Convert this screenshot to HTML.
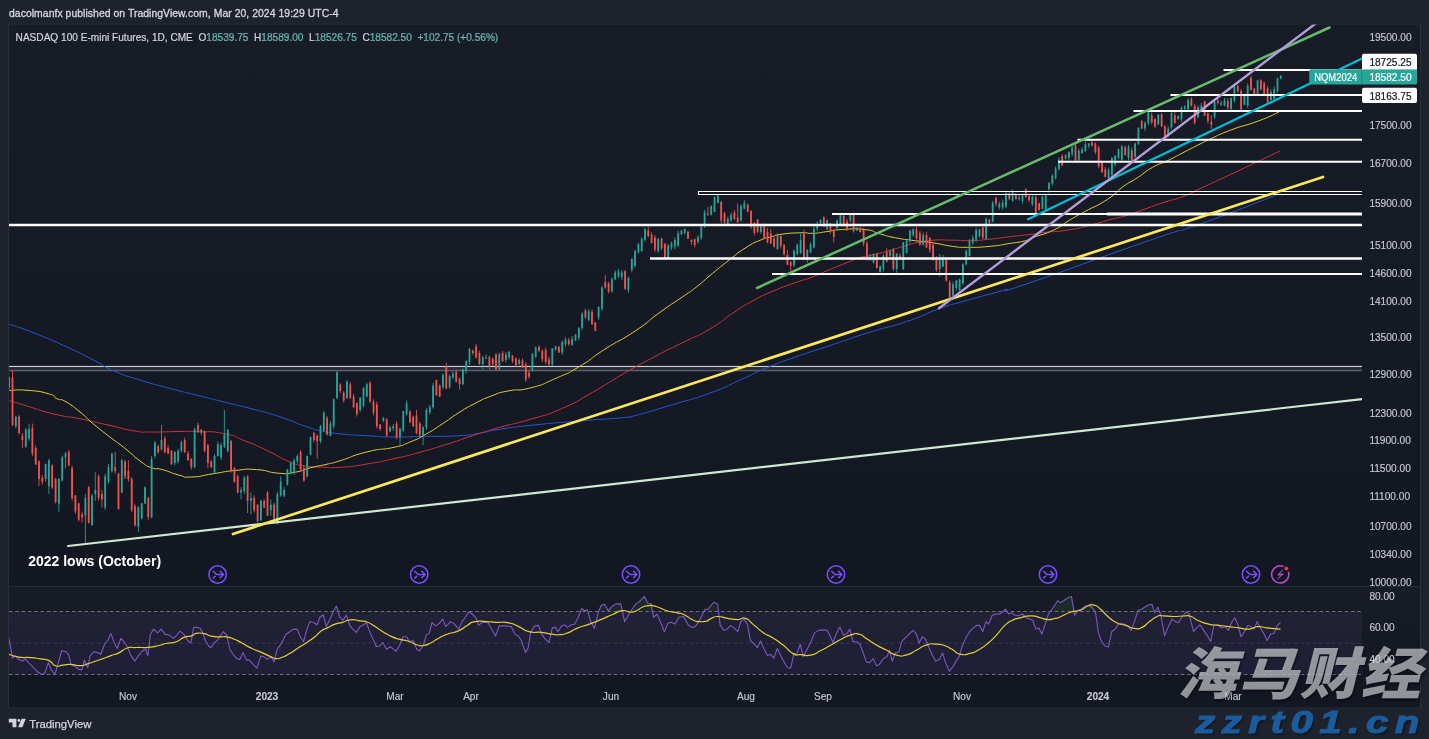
<!DOCTYPE html>
<html><head><meta charset="utf-8"><title>NASDAQ 100 E-mini Futures</title>
<style>
html,body{margin:0;padding:0;background:#1e222d;}
body{width:1429px;height:739px;position:relative;overflow:hidden;font-family:"Liberation Sans",Arial,sans-serif;}
.wm1{position:absolute;left:1173px;top:630px;width:260px;height:80px;white-space:nowrap;font-family:"Noto Sans CJK SC","WenQuanYi Zen Hei",sans-serif;font-weight:900;font-size:56px;line-height:80px;color:rgba(236,236,240,0.6);transform-origin:0 100%;transform:skewX(-14deg) scaleX(1.073);text-shadow:1.5px 1.5px 2px rgba(0,0,0,0.4);letter-spacing:1px;}
.wm2{position:absolute;left:1194.7px;top:702.5px;transform-origin:0 50%;transform:scaleX(1.3);white-space:nowrap;font-family:"Liberation Sans",Arial,sans-serif;font-weight:bold;font-style:italic;font-size:31px;line-height:40px;color:#1b5c9c;-webkit-text-stroke:1px #1b5c9c;letter-spacing:5px;text-shadow:1.5px 1.5px 1px rgba(0,0,0,0.35);}
</style></head><body>
<svg width="1429" height="739" viewBox="0 0 1429 739" style="position:absolute;left:0;top:0;will-change:transform">
<defs>
<clipPath id="cm"><rect x="9" y="24.5" width="1353" height="562.0"/></clipPath>
<clipPath id="cr"><rect x="9" y="586.5" width="1353" height="122.0"/></clipPath>
<linearGradient id="bgm" x1="0" y1="0" x2="0" y2="1"><stop offset="0" stop-color="#181c27"/><stop offset="1" stop-color="#131722"/></linearGradient>
<linearGradient id="bgr" x1="0" y1="0" x2="0" y2="1"><stop offset="0" stop-color="#181c27"/><stop offset="1" stop-color="#131722"/></linearGradient>
</defs>
<rect x="8" y="23.5" width="1413" height="685.0" fill="#131722"/>
<rect x="8" y="586.5" width="1413" height="88.5" fill="url(#bgr)"/>
<rect x="8" y="23.5" width="1413" height="563.0" fill="url(#bgm)"/>
<rect x="8.5" y="24.0" width="1412" height="684.0" fill="none" stroke="#2a2e39" stroke-width="1"/>
<line x1="8" x2="1421" y1="586.5" y2="586.5" stroke="#262a36" stroke-width="1"/>
<g clip-path="url(#cm)">
<rect x="0" y="365.9" width="1362" height="1.35" fill="#cdced2"/>
<rect x="0" y="367.25" width="1362" height="2.5" fill="#272b36"/>
<rect x="0" y="369.75" width="1362" height="1.55" fill="#595e69"/>
<path d="M9 324C18 327.3 16.7 326.1 36 333.8C55.3 341.5 47.8 338.3 66.9 347C86 355.7 77.8 352.1 93.4 360C109 367.9 97.9 364 113.7 370.8C129.5 377.6 122 374.4 140.8 380.3C159.6 386.2 151.3 383.4 170 388.4C188.7 393.4 179 390.7 197 395.2C215 399.7 206 397.5 224 402C242 406.5 232.9 403.9 251 408.7C269.1 413.5 260.2 410.4 278.3 416.3C296.4 422.2 291 421.4 305.4 426.3C319.8 431.2 310.1 428.5 321.6 431C333.1 433.5 324.9 432.2 340 433.8C355.1 435.4 349 434.6 367 435.7C385 436.8 376 436.7 394 437C412 437.3 399.3 436.9 421 436.5C442.7 436.1 439.1 436.9 459 435.7C478.9 434.5 467.1 435.1 480.8 433C494.5 430.9 481.3 432.1 500 429.3C518.7 426.5 510.3 427.5 537 424.7C563.7 421.9 551.3 423.4 580 421C608.7 418.6 604.7 419.4 623.2 417.6C641.7 415.8 619.1 419.8 635.5 415.5C651.9 411.2 647.8 412.1 672.4 404.7C697 397.3 686.8 401.5 709.4 393.3C732 385.1 721.7 388.2 740.2 380C758.7 371.8 746.3 376.4 764.8 368.7C783.3 361 773 365 795.6 357C818.2 349 807.9 352.9 832.5 344.7C857.1 336.5 844.9 340 869.5 332.3C894.1 324.6 883.2 329.4 906.4 321.6C929.6 313.8 919.9 315.6 939 308.8C958.1 302 942.8 307.3 963.7 301.3C984.6 295.3 979.5 297 1001.6 290.8C1023.7 284.6 980.3 299.6 1030 282.7C1079.7 265.8 1094 259.5 1150.7 240C1207.4 220.5 1157.2 239.4 1200 224.1C1242.8 208.8 1252.7 204 1279 194" fill="none" stroke="#2457d6" stroke-width="1" stroke-linejoin="round"/>
<path d="M9.5 400.6C15.3 402.4 12.2 401.5 27 406C41.8 410.5 36 409.7 54 414C72 418.3 63 415.3 81 419C99 422.7 90 421 108 425C126 429 120.5 428.7 135 431C149.5 433.3 136.6 431.8 151.6 432C166.6 432.2 164.9 431.6 180 431.5C195.1 431.4 182.3 431 197 431.7C211.7 432.4 207.7 430.4 224 433.6C240.3 436.8 231.3 435.5 245.8 441.2C260.3 446.9 253.1 443.9 267.5 450.7C281.9 457.5 276.4 456.4 289 461.5C301.6 466.6 294.5 464.2 305.4 466C316.3 467.8 310.1 466.6 321.6 467C333.1 467.4 324.9 468.3 340 467.3C355.1 466.3 349 466.9 367 464C385 461.1 376 462.7 394 458.7C412 454.7 402.9 457 421 452C439.1 447 430.2 449.5 448.3 443.8C466.4 438.1 458.2 440.3 475.4 434.8C492.6 429.3 481.5 432.4 500 427.2C518.5 422 510.3 425.4 530.8 419.2C551.3 413 541.1 417.6 561.6 408.7C582.1 399.8 571.9 404 592.4 392.4C612.9 380.8 602.7 385.7 623.2 373.9C643.7 362.1 633.5 367.8 654 357C674.5 346.2 666.2 350.8 684.7 341.6C703.2 332.4 693 339.1 709.4 329.3C725.8 319.5 719.6 321.7 734 312.3C748.4 302.9 740.2 307.8 752.5 301C764.8 294.2 757.3 297.9 771 292C784.7 286.1 779.6 288.3 793.7 283.2C807.8 278.1 802.4 280.8 813.2 276.7C824 272.6 816.5 275.1 826.2 271C835.9 266.9 831.1 269 842.4 264.5C853.7 260 851.1 260.5 860 257.6C868.9 254.7 859.7 258 869 255.8C878.3 253.6 875.3 254.5 887.9 251C900.5 247.5 896.7 248.2 906.8 245.4C916.9 242.6 909.3 244.2 918.2 242.5C927.1 240.8 922 241 933.4 240.2C944.8 239.4 939.7 240.1 952.3 240.2C964.9 240.3 958.7 241 971.3 240.6C983.9 240.2 977.6 240.4 990.2 239.1C1002.8 237.8 995.9 238.4 1009.2 236.8C1022.5 235.2 1018.8 235.8 1030 234.4C1041.2 233 1029.6 234.1 1042.7 232.6C1055.8 231.1 1052.9 232.4 1069.3 229.8C1085.7 227.2 1078.1 228.2 1092 224.7C1105.9 221.2 1099.7 222.4 1111 219.4C1122.3 216.4 1114.7 219.1 1126 215.6C1137.3 212.1 1132.3 213.4 1145 209C1157.7 204.6 1151.3 206.4 1164 202.3C1176.7 198.2 1171 201.1 1183 196.6C1195 192.1 1181 197.6 1200 188.7C1219 179.8 1213.3 182.6 1240 170C1266.7 157.4 1266.7 157.3 1280 151" fill="none" stroke="#d1313a" stroke-width="1" stroke-linejoin="round"/>
<path d="M9.5 390.6C15.3 390.5 13.9 389.2 27 390.3C40.1 391.4 38.8 391 48.7 393.8C58.6 396.6 50.9 396 56.8 398.7C62.7 401.4 58.2 397.3 66.3 402C74.4 406.7 72.4 405.9 81 412.8C89.6 419.7 82.9 415.1 92 422.8C101.1 430.5 97.5 427.4 108.3 435.8C119.1 444.2 113.7 439.4 124.5 448C135.3 456.6 131.8 454.9 140.8 461.5C149.8 468.1 144.4 465 151.6 467.7C158.8 470.4 153.4 467.2 162.4 469.6C171.4 472 168.9 472.5 178.7 475C188.5 477.5 180.2 477.4 191.7 477C203.2 476.6 198.9 475.9 213.3 473.7C227.7 471.5 220.6 471.9 235 470.5C249.4 469.1 242.2 468.7 256.6 469.6C271 470.5 265.7 472.3 278.3 473.2C290.9 474.1 283.7 474.1 294.5 472.3C305.3 470.5 300 470.4 310.8 467.7C321.6 465 317.3 466.5 327 464.2C336.7 461.9 326.7 464.9 340 460.8C353.3 456.7 349 456.4 367 451.9C385 447.4 379.5 450.6 394 447.3C408.5 444 399.5 446.4 410.4 441.9C421.3 437.4 415.8 439.9 426.6 433.8C437.4 427.7 432.1 430.6 442.9 423.5C453.7 416.4 448.2 419.4 459 412.6C469.8 405.8 464.5 408.8 475.4 403.2C486.3 397.6 480.8 400 491.6 395.9C502.4 391.8 494.7 393.7 507.8 391C520.9 388.3 514.9 392 530.8 387.8C546.7 383.6 539 385.7 555.4 378.5C571.8 371.3 563.6 375.9 580 366.2C596.4 356.5 586.2 361.1 604.7 349.3C623.2 337.5 617.1 343.1 635.5 330.8C653.9 318.5 643.6 324.1 660 312.3C676.4 300.5 672.6 303.8 684.7 295.4C696.8 287 686.9 294.5 696.2 287.2C705.5 279.9 701.7 282.3 712.5 273.4C723.3 264.5 717.9 268.8 728.7 260.4C739.5 252 734.2 255.1 745 248.2C755.8 241.3 752.5 243.6 761.2 239.8C769.9 236 764.5 238.7 771 236.9C777.5 235.1 771 235.8 780.7 234.4C790.4 233 789.4 233.2 800.2 232.8C811 232.4 804.5 233.7 813.2 233.3C821.9 232.9 816.5 233 826.2 231.7C835.9 230.4 829.4 230.2 842.4 229.5C855.4 228.8 852.6 228.1 865.2 229.6C877.8 231.1 870.2 231.3 880.3 234C890.4 236.7 884.1 235.6 895.5 237.8C906.9 240 901.8 238.9 914.4 240.6C927 242.3 920.8 241 933.4 242.9C946 244.8 940.9 244.8 952.3 246.3C963.7 247.8 954.9 247.3 967.5 247.3C980.1 247.3 976.3 247.6 990.2 246.3C1004.1 245 997.8 245.3 1009.2 243.5C1020.6 241.7 1016.3 243 1024.3 241C1032.3 239 1023.4 241.1 1033.3 237.4C1043.2 233.7 1042.1 235.5 1054.1 229.8C1066.1 224.1 1059.2 226.3 1069.3 220.3C1079.4 214.3 1071.8 218.7 1084.4 211.8C1097 204.9 1094.6 207.7 1107.2 199.5C1119.8 191.3 1112.2 194.5 1122.3 187.2C1132.4 179.9 1127.4 184.3 1137.5 177.7C1147.6 171.1 1142.5 173 1152.6 167.3C1162.7 161.6 1157.7 165.5 1167.8 160.6C1177.9 155.7 1172.3 158.2 1183 152.7C1193.7 147.2 1191.1 148.5 1200 144C1208.9 139.5 1199.2 144 1209.6 139.3C1220 134.6 1215 136 1231.2 129.9C1247.4 123.8 1242.4 127 1258.3 121C1274.2 115 1272.1 115 1279 112" fill="none" stroke="#e3cf30" stroke-width="1" stroke-linejoin="round"/>
<path d="M9.2 376.7V389.6M15.8 415.6V428.4M25.8 427.8V447.8M29.1 423.6V441.2M45.6 463.5V481.4M48.9 458.8V494M58.9 477.8V511.6M62.2 455.6V481.4M65.5 452V468.3M85.4 494V544.1M92 493.7V525.9M95.3 472.3V500.8M105.2 474V509.9M108.5 464.1V483.7M111.9 452.7V472.4M121.8 458.7V493.1M138.3 506.2V531.9M141.7 503V519.5M145 486.3V504.2M151.6 456.1V518.4M154.9 440.9V458.4M161.5 425V450.7M174.8 451V465.4M178.1 449.2V463.6M181.4 440.7V452.3M194.6 427.7V468.3M201.3 429V434.9M214.5 454.1V473.3M217.8 441.5V456.6M221.1 442.5V460M224.4 410.1V448M227.8 429.2V452.8M241 487.2V499.4M244.3 475.5V494.1M250.9 492.6V514.3M260.9 499.9V521.1M270.8 499.4V515.7M277.4 491.6V524.5M280.7 476.4V496.7M284.1 487.1V497M287.4 468.9V485.7M290.7 461.8V474.4M294 458.7V475.1M297.3 454.3V463.8M307.2 455.6V477.4M310.5 436.3V455.2M320.5 424.7V443.3M323.8 410.7V432M330.4 420.8V436.5M333.7 398.6V429.1M337 370.8V399.3M347 379.8V399.3M360.2 396.9V412M363.5 387V407.5M366.8 382.6V397.6M383.4 417V422.2M390 425.7V432.1M393.3 424V430.9M400 427.5V445.1M403.3 410.8V431.9M406.6 400.5V415.4M423.1 426.2V445.1M426.4 407.9V429.9M429.8 404.8V414.5M433.1 382.8V408.6M443 373.3V389.5M449.6 374.3V389M452.9 371.2V379.1M462.9 368.8V385M466.2 360.3V373.5M469.5 347.8V364.9M482.7 355.8V369.3M486 354.3V359M499.3 352.6V370.5M505.9 351.8V362.6M509.2 351.2V359.5M519.2 358.2V364.9M532.4 353.1V371.7M535.7 346.5V357.7M552.3 347.9V366M555.6 345.6V350.7M562.2 340.5V355M565.5 337.4V346.4M572.1 336.1V346M575.5 334.1V341M578.8 327V340.3M582.1 312.3V330.4M588.7 309V321.3M598.6 306.1V319.8M602 286.2V311.2M611.9 277.3V292.7M615.2 270.1V280.1M618.5 268.5V278M621.8 269.8V279.9M628.4 276.6V292.9M631.8 258.3V272.2M635.1 249.8V267.7M638.4 242.7V253.7M641.7 236.9V251.9M645 227.9V241.4M658.2 238.2V253M668.2 243.8V258.4M671.5 241.6V250.2M674.8 237.7V249.2M678.1 230.5V247.4M681.4 229.9V235.3M684.7 228.2V234.3M698 235V243.9M701.3 224.9V239.8M704.6 209.9V227.9M711.2 205.5V215.6M714.5 196.2V212.4M717.9 194.9V203.6M727.8 216.6V225.7M731.1 212.5V221.4M741 204.4V221.4M744.3 200.4V209.4M760.9 223.7V234.1M777.5 233.4V249.8M794 249.4V267.1M797.3 243.3V255.3M800.6 232.8V253.9M807.3 249V262.8M810.6 242.1V253.2M813.9 226.3V247.9M817.2 221.1V231.3M820.5 219.1V225.1M827.1 219.5V230.4M837.1 219.1V229.1M840.4 213.1V225.4M850.3 213.6V222.5M856.9 226.7V231.3M870.2 253.9V260.8M873.5 253.2V263.6M880.1 265.3V272.8M883.4 254.3V271.8M890 249.8V258.1M896.7 252.9V272.8M903.3 242V270M906.6 239.7V253.4M909.9 229.5V243.2M913.2 228V237M923.2 232.5V245.6M939.7 253.9V276.6M943 254.8V267.2M953 281.6V296.1M956.3 279.9V290.5M959.6 278.6V292M962.9 263V284.9M966.2 249.4V265.5M969.5 239V256.5M972.8 235.4V245.3M976.1 227.4V242M979.5 228.6V237.8M986.1 217.4V239.7M992.7 200.9V222.2M999.3 201.5V210M1002.6 199.7V209.6M1005.9 192.4V208.2M1012.6 189.5V201.8M1019.2 195.2V200.5M1022.5 193.5V203.6M1032.4 194.2V206.1M1042.4 195.6V209.4M1045.7 193.3V211.5M1049 182.4V192.8M1052.3 173.9V185.5M1055.6 166.4V179.3M1058.9 157.1V170.3M1065.6 154.4V159.5M1068.9 151.2V160.6M1072.2 146.1V156.3M1078.8 148.7V161.1M1082.1 147.2V154M1085.4 141.7V151.7M1088.7 142.9V148M1108.6 167.5V180.5M1111.9 157.3V177.2M1115.2 155V166.3M1118.5 148.4V159.2M1121.8 144.8V160.6M1128.5 144.9V160.3M1135.1 142.9V158.5M1138.4 127V145.1M1145 121.3V131.2M1148.3 110.1V125.4M1158.3 113.9V125.2M1168.2 126.4V137.1M1171.5 110.5V129.1M1178.1 115.4V119.7M1181.5 106.5V121.7M1184.8 105.2V110.8M1188.1 98.1V110.4M1198 105.3V118.5M1201.3 102.9V109.2M1214.6 100.8V119.1M1221.2 101V106M1224.5 97.9V106.2M1231.1 97.4V111.2M1234.4 85.7V102.6M1244.4 93.8V105.3M1247.7 83.3V108M1257.6 79.6V95.6M1270.9 89.5V102.4M1274.2 86.4V100.6M1277.5 77.5V92.7M1280.8 74.9V79.4" stroke="#26a69a" stroke-width="0.85" fill="none"/>
<path d="M12.5 370.3V426.3M19.1 415.2V434.7M22.4 433.1V448M32.4 423.6V456.1M35.7 445.6V465M39 460.2V485.9M42.3 475V484.6M52.2 464.5V489.1M55.6 477.7V503.5M68.8 449.8V466.1M72.1 465.7V500.6M75.4 494.9V513.7M78.7 502.6V521.4M82.1 511.6V522.4M88.7 486V523.6M98.6 474.4V500.8M101.9 489.9V507.5M115.2 452V473.7M118.5 472.6V509.8M125.1 459.7V479M128.4 460.2V481.8M131.7 476.9V512.3M135 503.6V526.8M148.3 496.8V519.8M158.2 444.6V453.9M164.8 436.1V453.5M168.1 445.2V454.3M171.5 450V464.7M184.7 437.6V453.2M188 450.8V460.9M191.3 458.3V469.7M198 422.8V433.1M204.6 430.5V452.6M207.9 443.9V468.3M211.2 459.9V468.3M231.1 440.1V472.6M234.4 466.8V483M237.7 474.6V493.4M247.6 475.1V513M254.2 495.4V512.6M257.6 504.3V522.9M264.2 499.5V508.5M267.5 491V516.2M274.1 502.8V520.9M300.6 449.8V471.5M303.9 465.7V481.9M313.9 431.8V442.4M317.2 434.4V458.8M327.1 415.8V435.6M340.3 383.3V393.4M343.7 391V402.5M350.3 382.1V398.9M353.6 393.8V407.7M356.9 402.7V416.5M370.1 380.8V402.5M373.5 399.4V415.4M376.8 401.7V428.5M380.1 424.1V430.8M386.7 418V436.6M396.6 420.9V439.1M409.9 410.4V423.3M413.2 415.4V426.9M416.5 409.9V434.3M419.8 421.8V438.4M436.4 379.5V396M439.7 384.5V396.9M446.3 362.6V389.6M456.2 369.4V382.7M459.6 377.5V389.6M472.8 349.3V355M476.1 344.3V358.6M479.4 350.7V364.9M489.4 355.9V369.2M492.7 357.4V366M496 353V371M502.6 350.9V361.9M512.5 354.9V363.1M515.9 357.2V366.7M522.5 358.5V367.8M525.8 362.2V382M529.1 369.9V378.9M539 345.5V351.8M542.3 349.2V362M545.7 347.5V364.2M549 356.6V366.5M558.9 345.7V352.9M568.8 337.8V345.9M585.4 308.6V319.1M592 309.2V325M595.3 322.1V331.3M605.3 275.3V288.8M608.6 281.7V293.2M625.1 269.9V290.2M648.3 226.5V237.4M651.6 232.4V243.3M654.9 234.8V252.1M661.6 237.8V249.8M664.9 242.9V258.9M688 230.5V239.2M691.4 239.3V245M694.7 238.5V247.4M707.9 206.8V215.7M721.2 200.7V223.4M724.5 211.6V224.6M734.4 210.1V220.4M737.7 203.6V223M747.7 203.7V212.2M751 210.1V228.7M754.3 222V235.3M757.6 219V232.8M764.2 223.3V239.3M767.5 227.9V243.4M770.8 228.7V244.2M774.1 236.2V247.8M780.8 235.5V248.6M784.1 244.1V256.2M787.4 249.9V265.3M790.7 261.2V271M803.9 229.5V260.4M823.8 216.1V227.1M830.4 223V233.6M833.8 229.5V242.5M843.7 213.5V226.6M847 218.8V231.1M853.6 212.4V232.6M860.2 226.7V232.6M863.6 227.6V246M866.9 241V260.7M876.8 252.8V268.8M886.7 248.2V262.4M893.4 247.9V270.9M900 253.2V260M916.5 226.4V239.7M919.9 231V246.1M926.5 232.1V248M929.8 237.1V252.9M933.1 243.3V260.9M936.4 256.2V271.9M946.3 257.7V281.8M949.7 280.1V298.4M982.8 226.3V239.2M989.4 218.8V225.5M996 196.7V206.5M1009.3 192.4V200.1M1015.9 192.9V199.7M1025.8 188V198M1029.1 194.1V202.2M1035.8 194.2V215.1M1039.1 202.6V210.8M1062.2 154V166.3M1075.5 143.8V162.5M1092 140.7V146.4M1095.4 142.5V154.2M1098.7 145.9V167.9M1102 161.1V173.2M1105.3 166.9V177.5M1125.2 145.3V155.4M1131.8 147.4V162.7M1141.7 119.8V129.1M1151.7 112.5V124.2M1155 118.4V127.9M1161.6 112.9V127M1164.9 124.9V139.5M1174.8 112.3V123.9M1191.4 97.2V106.6M1194.7 103.8V124.6M1204.6 100.7V116.2M1207.9 112.7V123.6M1211.3 115V129.2M1217.9 99.1V104.4M1227.8 98.4V110.3M1237.8 84.8V92.7M1241.1 89V110.5M1251 75.7V90.6M1254.3 88.1V96.1M1260.9 79.2V90.4M1264.2 81.5V94.7M1267.6 86.1V104.9" stroke="#ef5350" stroke-width="0.85" fill="none"/>
<path d="M8.3 377.6h1.8V387.1h-1.8zM14.9 416.8h1.8V426.3h-1.8zM24.9 429.8h1.8V446.6h-1.8zM28.2 429h1.8V438.5h-1.8zM44.7 464.2h1.8V479.1h-1.8zM48 460.2h1.8V485.9h-1.8zM58 479.1h1.8V503.5h-1.8zM61.3 457.5h1.8V480.5h-1.8zM64.6 453.4h1.8V457.5h-1.8zM84.5 498.1h1.8V515.7h-1.8zM91.1 495.4h1.8V525.1h-1.8zM94.4 489.9h1.8V494h-1.8zM104.3 476.4h1.8V507.5h-1.8zM107.6 466.9h1.8V481.8h-1.8zM111 453.4h1.8V471h-1.8zM120.9 460.2h1.8V492.6h-1.8zM137.4 507.5h1.8V526.5h-1.8zM140.8 503.5h1.8V518.4h-1.8zM144.1 487.2h1.8V503.5h-1.8zM150.7 458.8h1.8V517h-1.8zM154 442.6h1.8V456.1h-1.8zM160.6 439.9h1.8V449.3h-1.8zM173.9 452h1.8V462.9h-1.8zM177.2 450.7h1.8V461.5h-1.8zM180.5 442.6h1.8V450.7h-1.8zM193.7 429h1.8V466.9h-1.8zM200.4 429.8h1.8V432.6h-1.8zM213.6 456.1h1.8V472.3h-1.8zM216.9 443.9h1.8V456.1h-1.8zM220.2 445.3h1.8V457.5h-1.8zM223.5 434.4h1.8V446.6h-1.8zM226.9 429.8h1.8V450.7h-1.8zM240.1 489.9h1.8V492.6h-1.8zM243.4 477.8h1.8V491.3h-1.8zM250 498.1h1.8V500.8h-1.8zM260 500.8h1.8V519.7h-1.8zM269.9 504.8h1.8V510.2h-1.8zM276.5 494h1.8V522.4h-1.8zM279.8 481.8h1.8V495.4h-1.8zM283.2 489.9h1.8V495.4h-1.8zM286.5 469.6h1.8V484.5h-1.8zM289.8 462.9h1.8V473.7h-1.8zM293.1 460.2h1.8V472.3h-1.8zM296.4 456.1h1.8V461.5h-1.8zM306.3 456.1h1.8V476.4h-1.8zM309.6 437.2h1.8V454.7h-1.8zM319.6 426.3h1.8V441.2h-1.8zM322.9 412.8h1.8V430.4h-1.8zM329.5 423.6h1.8V435.8h-1.8zM332.8 399.3h1.8V426.3h-1.8zM336.1 372.2h1.8V397.9h-1.8zM346.1 381.7h1.8V397.9h-1.8zM359.3 397.8h1.8V409.9h-1.8zM362.6 388.3h1.8V405.9h-1.8zM365.9 384.2h1.8V396.4h-1.8zM382.5 418.1h1.8V420.8h-1.8zM389.1 427.5h1.8V431.6h-1.8zM392.4 426.2h1.8V428.3h-1.8zM399.1 428.9h1.8V437h-1.8zM402.4 411.3h1.8V430.2h-1.8zM405.7 403.2h1.8V414h-1.8zM422.2 427.5h1.8V437h-1.8zM425.5 409.9h1.8V427.5h-1.8zM428.9 407.2h1.8V412.6h-1.8zM432.2 385.6h1.8V407.2h-1.8zM442.1 374.7h1.8V386.9h-1.8zM448.7 376.1h1.8V386.9h-1.8zM452 373.4h1.8V377.5h-1.8zM462 369.3h1.8V384.2h-1.8zM465.3 361.2h1.8V370.7h-1.8zM468.6 349h1.8V362.6h-1.8zM481.8 357.2h1.8V363.9h-1.8zM485.1 357.2h1.8V358.5h-1.8zM498.4 354.4h1.8V369.3h-1.8zM505 354.4h1.8V359.9h-1.8zM508.3 351.7h1.8V357.2h-1.8zM518.3 359.9h1.8V363.9h-1.8zM531.5 353.8h1.8V370h-1.8zM534.8 347.6h1.8V356.5h-1.8zM551.4 348.4h1.8V364.6h-1.8zM554.7 346.5h1.8V349.7h-1.8zM561.3 342.1h1.8V352.4h-1.8zM564.6 339.4h1.8V344.3h-1.8zM571.2 338.9h1.8V344.8h-1.8zM574.6 334.8h1.8V340.2h-1.8zM577.9 328.1h1.8V337.5h-1.8zM581.2 313.7h1.8V328.1h-1.8zM587.8 311.3h1.8V319.9h-1.8zM597.7 306.9h1.8V317.2h-1.8zM601.1 287.5h1.8V309.1h-1.8zM611 279.3h1.8V291.5h-1.8zM614.3 272.6h1.8V279.3h-1.8zM617.6 271.2h1.8V276.6h-1.8zM620.9 272.6h1.8V277.2h-1.8zM627.5 278h1.8V290.2h-1.8zM630.9 259h1.8V269.9h-1.8zM634.2 250.9h1.8V265.8h-1.8zM637.5 244.1h1.8V252.3h-1.8zM640.8 238.7h1.8V250.9h-1.8zM644.1 229.3h1.8V240.1h-1.8zM657.3 238.7h1.8V250.9h-1.8zM667.3 245.5h1.8V257.7h-1.8zM670.6 243.6h1.8V247.4h-1.8zM673.9 240.1h1.8V246.8h-1.8zM677.2 233.3h1.8V245.5h-1.8zM680.5 230.6h1.8V233.9h-1.8zM683.8 229.3h1.8V233.3h-1.8zM697.1 236.9h1.8V241.4h-1.8zM700.4 227.1h1.8V237.7h-1.8zM703.7 212.5h1.8V226.3h-1.8zM710.3 206h1.8V214.4h-1.8zM713.6 197.1h1.8V211.7h-1.8zM717 195.4h1.8V202.7h-1.8zM726.9 218.7h1.8V223.9h-1.8zM730.2 214.9h1.8V220.6h-1.8zM740.1 206h1.8V220.6h-1.8zM743.4 203.2h1.8V208.4h-1.8zM760 225.2h1.8V232h-1.8zM776.6 236h1.8V249h-1.8zM793.1 250.7h1.8V265.3h-1.8zM796.4 245h1.8V253.9h-1.8zM799.7 240.1h1.8V253.1h-1.8zM806.4 249.9h1.8V259.6h-1.8zM809.7 244.2h1.8V252.3h-1.8zM813 228.7h1.8V247.4h-1.8zM816.3 223.9h1.8V228.7h-1.8zM819.6 219.8h1.8V223h-1.8zM826.2 220.6h1.8V228.7h-1.8zM836.2 220.6h1.8V227.9h-1.8zM839.5 214.9h1.8V224.7h-1.8zM849.4 214.1h1.8V220.6h-1.8zM856 227.9h1.8V230.4h-1.8zM869.3 256.7h1.8V259.2h-1.8zM872.6 253.9h1.8V262.4h-1.8zM879.2 266.2h1.8V271.9h-1.8zM882.5 255.8h1.8V269h-1.8zM889.1 251.6h1.8V255.8h-1.8zM895.8 253.9h1.8V269h-1.8zM902.4 242.5h1.8V269h-1.8zM905.7 240.6h1.8V252.9h-1.8zM909 230.8h1.8V240.6h-1.8zM912.3 229.6h1.8V234.9h-1.8zM922.3 234.9h1.8V244.4h-1.8zM938.8 259.6h1.8V269h-1.8zM942.1 257.7h1.8V266.2h-1.8zM952.1 284.2h1.8V295.6h-1.8zM955.4 280.4h1.8V288h-1.8zM958.7 279.5h1.8V289.9h-1.8zM962 264.3h1.8V283.3h-1.8zM965.3 251h1.8V264.3h-1.8zM968.6 241h1.8V255.8h-1.8zM971.9 237.8h1.8V242.5h-1.8zM975.2 230.2h1.8V239.7h-1.8zM978.6 229.3h1.8V235.9h-1.8zM985.2 218.8h1.8V238.7h-1.8zM991.8 202.7h1.8V221.7h-1.8zM998.4 203.7h1.8V207.5h-1.8zM1001.7 202.4h1.8V207.5h-1.8zM1005 192.9h1.8V206.5h-1.8zM1011.7 191.4h1.8V200.8h-1.8zM1018.3 197.4h1.8V198.9h-1.8zM1021.6 195.2h1.8V200.8h-1.8zM1031.5 196.6h1.8V204.2h-1.8zM1041.5 196.6h1.8V208.9h-1.8zM1044.8 194.7h1.8V208.9h-1.8zM1048.1 183h1.8V189h-1.8zM1051.4 175.8h1.8V183.4h-1.8zM1054.7 168.6h1.8V177.7h-1.8zM1058 159.7h1.8V169.2h-1.8zM1064.7 154.9h1.8V158.7h-1.8zM1068 152.1h1.8V157.8h-1.8zM1071.3 147.4h1.8V154h-1.8zM1077.9 150.8h1.8V159.7h-1.8zM1081.2 149.6h1.8V153.1h-1.8zM1084.5 144.5h1.8V151.2h-1.8zM1087.8 143.6h1.8V145.5h-1.8zM1107.7 170.1h1.8V177.7h-1.8zM1111 157.8h1.8V174.8h-1.8zM1114.3 155.9h1.8V164.4h-1.8zM1117.6 149.6h1.8V157.8h-1.8zM1120.9 146.4h1.8V159.7h-1.8zM1127.6 147.4h1.8V157.8h-1.8zM1134.2 143.6h1.8V156.8h-1.8zM1137.5 128h1.8V144h-1.8zM1144.1 123.1h1.8V128.4h-1.8zM1147.4 112.3h1.8V123.1h-1.8zM1157.4 114.8h1.8V124.3h-1.8zM1167.3 128.4h1.8V135.1h-1.8zM1170.6 112.9h1.8V127.5h-1.8zM1177.2 116.1h1.8V118.9h-1.8zM1180.6 107.6h1.8V118.9h-1.8zM1183.9 106.6h1.8V108.5h-1.8zM1187.2 100h1.8V109.5h-1.8zM1197.1 107.6h1.8V117.1h-1.8zM1200.4 105.5h1.8V108.2h-1.8zM1213.7 102.1h1.8V117h-1.8zM1220.3 103.1h1.8V104.8h-1.8zM1223.6 100.4h1.8V105.5h-1.8zM1230.2 98.1h1.8V108.9h-1.8zM1233.5 86.8h1.8V100.8h-1.8zM1243.5 96h1.8V104.8h-1.8zM1246.8 85.9h1.8V105.5h-1.8zM1256.7 80.5h1.8V94h-1.8zM1270 92h1.8V100.1h-1.8zM1273.3 89.3h1.8V98.7h-1.8zM1276.6 78.2h1.8V91.3h-1.8zM1279.9 76h1.8V78.4h-1.8z" fill="#26a69a"/>
<path d="M11.6 377.6h1.8V425h-1.8zM18.2 416.8h1.8V433.1h-1.8zM21.5 435.8h1.8V439.9h-1.8zM31.5 427.7h1.8V453.4h-1.8zM34.8 448h1.8V464.2h-1.8zM38.1 461.5h1.8V479.1h-1.8zM41.4 477.8h1.8V481.8h-1.8zM51.3 465.6h1.8V487.2h-1.8zM54.7 479.1h1.8V502.1h-1.8zM67.9 452h1.8V465.6h-1.8zM71.2 468.3h1.8V498.1h-1.8zM74.5 495.4h1.8V511.6h-1.8zM77.8 503.5h1.8V519.7h-1.8zM81.2 514.3h1.8V517.6h-1.8zM87.8 487.2h1.8V522.4h-1.8zM97.7 476.4h1.8V498.1h-1.8zM101 494h1.8V499.4h-1.8zM114.3 466.9h1.8V471h-1.8zM117.6 473.7h1.8V508.9h-1.8zM124.2 461.5h1.8V476.4h-1.8zM127.5 471h1.8V479.1h-1.8zM130.8 479.1h1.8V510.2h-1.8zM134.1 506.2h1.8V525.1h-1.8zM147.4 498.1h1.8V517h-1.8zM157.3 446.6h1.8V452h-1.8zM163.9 438.5h1.8V452h-1.8zM167.2 448h1.8V453.4h-1.8zM170.6 450.7h1.8V464.2h-1.8zM183.8 439.9h1.8V452h-1.8zM187.1 453.4h1.8V460.2h-1.8zM190.4 458.8h1.8V466.9h-1.8zM197.1 425h1.8V431.7h-1.8zM203.7 431.7h1.8V450.7h-1.8zM207 445.3h1.8V462.9h-1.8zM210.3 461.5h1.8V466.9h-1.8zM230.2 441.2h1.8V471h-1.8zM233.5 468.3h1.8V481.8h-1.8zM236.8 476.4h1.8V492.6h-1.8zM246.7 476.4h1.8V500.8h-1.8zM253.3 498.1h1.8V510.2h-1.8zM256.7 504.8h1.8V521.1h-1.8zM263.3 500.8h1.8V507.5h-1.8zM266.6 492.6h1.8V515.7h-1.8zM273.2 504.8h1.8V518.4h-1.8zM299.7 452h1.8V469.6h-1.8zM303 468.3h1.8V480.5h-1.8zM313 433.1h1.8V439.9h-1.8zM316.3 435.8h1.8V441.2h-1.8zM326.2 418.2h1.8V434.4h-1.8zM339.4 384.4h1.8V391.1h-1.8zM342.8 392.5h1.8V400.6h-1.8zM349.4 384.4h1.8V397.9h-1.8zM352.7 396.4h1.8V407.2h-1.8zM356 403.2h1.8V414h-1.8zM369.2 382.9h1.8V401.8h-1.8zM372.6 401.8h1.8V412.6h-1.8zM375.9 404.5h1.8V426.2h-1.8zM379.2 424.8h1.8V428.9h-1.8zM385.8 419.4h1.8V435.7h-1.8zM395.7 423.5h1.8V437h-1.8zM409 411.3h1.8V422.1h-1.8zM412.3 416.7h1.8V426.2h-1.8zM415.6 415.4h1.8V433h-1.8zM418.9 423.5h1.8V435.7h-1.8zM435.5 380.2h1.8V395.1h-1.8zM438.8 385.6h1.8V396.4h-1.8zM445.4 366.6h1.8V388.3h-1.8zM455.3 372h1.8V381.5h-1.8zM458.7 378.8h1.8V384.2h-1.8zM471.9 350.9h1.8V353.1h-1.8zM475.2 346.3h1.8V357.2h-1.8zM478.5 353.1h1.8V363.9h-1.8zM488.5 356.6h1.8V366.6h-1.8zM491.8 358.5h1.8V363.9h-1.8zM495.1 354.4h1.8V369.3h-1.8zM501.7 353.1h1.8V361.2h-1.8zM511.6 355.8h1.8V361.2h-1.8zM515 358.5h1.8V365.3h-1.8zM521.6 360.5h1.8V367.3h-1.8zM524.9 364.6h1.8V379.5h-1.8zM528.2 372.7h1.8V376.8h-1.8zM538.1 347h1.8V351.1h-1.8zM541.4 351.1h1.8V359.2h-1.8zM544.8 349.7h1.8V361.9h-1.8zM548.1 359.2h1.8V364.6h-1.8zM558 347h1.8V352.4h-1.8zM567.9 340.2h1.8V344.3h-1.8zM584.5 310.5h1.8V317.2h-1.8zM591.1 311.8h1.8V324h-1.8zM594.4 322.6h1.8V330.8h-1.8zM604.4 282h1.8V287.5h-1.8zM607.7 283.4h1.8V291.5h-1.8zM624.2 271.2h1.8V288.8h-1.8zM647.4 230.6h1.8V236h-1.8zM650.7 234.7h1.8V242.8h-1.8zM654 237.4h1.8V249.6h-1.8zM660.7 238.7h1.8V248.2h-1.8zM664 244.1h1.8V257.7h-1.8zM687.1 232h1.8V238.7h-1.8zM690.5 240.1h1.8V241.7h-1.8zM693.8 239.3h1.8V245h-1.8zM707 213.8h1.8V214.9h-1.8zM720.3 201.9h1.8V220.6h-1.8zM723.6 213.3h1.8V222.2h-1.8zM733.5 212.5h1.8V219h-1.8zM736.8 217.4h1.8V222.2h-1.8zM746.8 204.4h1.8V211.7h-1.8zM750.1 210.9h1.8V227.1h-1.8zM753.4 223h1.8V232.8h-1.8zM756.7 219.8h1.8V232h-1.8zM763.3 225.2h1.8V237.7h-1.8zM766.6 232h1.8V242.5h-1.8zM769.9 233.6h1.8V243.4h-1.8zM773.2 238.5h1.8V246.6h-1.8zM779.9 236h1.8V245.8h-1.8zM783.2 245h1.8V253.9h-1.8zM786.5 254.7h1.8V264.5h-1.8zM789.8 262h1.8V266.1h-1.8zM803 233.6h1.8V259.6h-1.8zM822.9 217.4h1.8V226.3h-1.8zM829.5 223.5h1.8V230.4h-1.8zM832.9 230.4h1.8V236.9h-1.8zM842.8 215.7h1.8V223.9h-1.8zM846.1 221.4h1.8V228.7h-1.8zM852.7 213.3h1.8V231.2h-1.8zM859.3 228.3h1.8V232.1h-1.8zM862.7 229.6h1.8V243.5h-1.8zM866 243.5h1.8V258.6h-1.8zM875.9 253.9h1.8V268.1h-1.8zM885.8 252h1.8V261.5h-1.8zM892.5 250.1h1.8V269h-1.8zM899.1 255.8h1.8V258.6h-1.8zM915.6 229.3h1.8V238.7h-1.8zM919 233.1h1.8V244.4h-1.8zM925.6 234.9h1.8V247.3h-1.8zM928.9 237.8h1.8V250.1h-1.8zM932.2 244.4h1.8V258.6h-1.8zM935.5 257.7h1.8V270h-1.8zM945.4 259.6h1.8V280.4h-1.8zM948.8 282.3h1.8V297.5h-1.8zM981.9 227.4h1.8V237.8h-1.8zM988.5 219.8h1.8V222.6h-1.8zM995.1 198h1.8V203.7h-1.8zM1008.4 193.3h1.8V198.9h-1.8zM1015 194.2h1.8V198.9h-1.8zM1024.9 189.5h1.8V197.1h-1.8zM1028.2 196.1h1.8V199.9h-1.8zM1034.9 197h1.8V213.7h-1.8zM1038.2 203.3h1.8V209.9h-1.8zM1061.3 155.9h1.8V165.4h-1.8zM1074.6 145.5h1.8V160.6h-1.8zM1091.1 142.6h1.8V145.5h-1.8zM1094.5 143.6h1.8V152.1h-1.8zM1097.8 147.4h1.8V166.3h-1.8zM1101.1 162.9h1.8V172h-1.8zM1104.4 169.2h1.8V176.7h-1.8zM1124.3 147.4h1.8V154.9h-1.8zM1130.9 150.2h1.8V160.6h-1.8zM1140.8 121.2h1.8V128.4h-1.8zM1150.8 115.2h1.8V122.4h-1.8zM1154.1 118.9h1.8V126.5h-1.8zM1160.7 114.2h1.8V126.5h-1.8zM1164 126.5h1.8V136.9h-1.8zM1173.9 115.2h1.8V122.7h-1.8zM1190.5 99.1h1.8V105.7h-1.8zM1193.8 105.7h1.8V122.7h-1.8zM1203.7 101.2h1.8V115.7h-1.8zM1207 113.6h1.8V121.1h-1.8zM1210.4 121.7h1.8V124.5h-1.8zM1217 100.8h1.8V102.8h-1.8zM1226.9 101.2h1.8V107.5h-1.8zM1236.9 86.3h1.8V91.3h-1.8zM1240.2 90.9h1.8V109.6h-1.8zM1250.1 77.7h1.8V89.9h-1.8zM1253.4 88.6h1.8V94h-1.8zM1260 80.5h1.8V89.3h-1.8zM1263.3 83.2h1.8V94h-1.8zM1266.7 88.2h1.8V102.1h-1.8z" fill="#ef5350"/>
<line x1="1223.5" x2="1362" y1="70" y2="70" stroke="#ffffff" stroke-width="2"/>
<line x1="1170.5" x2="1362" y1="95" y2="95" stroke="#ffffff" stroke-width="1.8"/>
<line x1="1133.5" x2="1362" y1="111" y2="111" stroke="#ffffff" stroke-width="2"/>
<line x1="1077.5" x2="1362" y1="139.8" y2="139.8" stroke="#ffffff" stroke-width="2"/>
<line x1="1058" x2="1362" y1="161.8" y2="161.8" stroke="#ffffff" stroke-width="2"/>
<line x1="698" x2="1362" y1="191.5" y2="191.5" stroke="#ffffff" stroke-width="1.1"/>
<line x1="698" x2="1362" y1="194.5" y2="194.5" stroke="#ffffff" stroke-width="1.1"/>
<line x1="832" x2="1362" y1="214" y2="214" stroke="#ffffff" stroke-width="2.0"/>
<line x1="1107" x2="1362" y1="214" y2="214" stroke="#ffffff" stroke-width="3.0"/>
<line x1="9" x2="1362" y1="225" y2="225" stroke="#ffffff" stroke-width="2.4"/>
<line x1="650" x2="1362" y1="258.5" y2="258.5" stroke="#ffffff" stroke-width="2.6"/>
<line x1="772" x2="1362" y1="274" y2="274" stroke="#ffffff" stroke-width="2"/>
<line x1="698.5" x2="698.5" y1="191" y2="195" stroke="#ffffff" stroke-width="1.1"/>
<line x1="68" y1="546" x2="1362.5" y2="399" stroke="#cfe8cf" stroke-width="2.2" stroke-linecap="round"/>
<line x1="233" y1="534" x2="1323" y2="177" stroke="#fbe85a" stroke-width="2.7" stroke-linecap="round"/>
<line x1="757" y1="288" x2="1329.5" y2="27.5" stroke="#66bb6a" stroke-width="2.5" stroke-linecap="round"/>
<line x1="1028" y1="219.3" x2="1364" y2="57.5" stroke="#00bcd4" stroke-width="2.3" stroke-linecap="round"/>
<line x1="939" y1="308.3" x2="1330" y2="12.7" stroke="#b39ddb" stroke-width="2.35" stroke-linecap="round"/>
</g>
<g transform="translate(217.6,574.5)" fill="none" stroke="#7c4dff" stroke-width="1.55" stroke-linecap="round" stroke-linejoin="round"><circle r="8.7"/><path d="M-4.4 -3.2L-1 0H5.6"/><path d="M2.6 -3.2L5.8 0L2.6 3.2"/><path d="M-4.5 3.5L-2.4 1.7"/></g>
<g transform="translate(419.2,574.5)" fill="none" stroke="#7c4dff" stroke-width="1.55" stroke-linecap="round" stroke-linejoin="round"><circle r="8.7"/><path d="M-4.4 -3.2L-1 0H5.6"/><path d="M2.6 -3.2L5.8 0L2.6 3.2"/><path d="M-4.5 3.5L-2.4 1.7"/></g>
<g transform="translate(631,574.5)" fill="none" stroke="#7c4dff" stroke-width="1.55" stroke-linecap="round" stroke-linejoin="round"><circle r="8.7"/><path d="M-4.4 -3.2L-1 0H5.6"/><path d="M2.6 -3.2L5.8 0L2.6 3.2"/><path d="M-4.5 3.5L-2.4 1.7"/></g>
<g transform="translate(836,574.5)" fill="none" stroke="#7c4dff" stroke-width="1.55" stroke-linecap="round" stroke-linejoin="round"><circle r="8.7"/><path d="M-4.4 -3.2L-1 0H5.6"/><path d="M2.6 -3.2L5.8 0L2.6 3.2"/><path d="M-4.5 3.5L-2.4 1.7"/></g>
<g transform="translate(1048,574.5)" fill="none" stroke="#7c4dff" stroke-width="1.55" stroke-linecap="round" stroke-linejoin="round"><circle r="8.7"/><path d="M-4.4 -3.2L-1 0H5.6"/><path d="M2.6 -3.2L5.8 0L2.6 3.2"/><path d="M-4.5 3.5L-2.4 1.7"/></g>
<g transform="translate(1251,574.5)" fill="none" stroke="#7c4dff" stroke-width="1.55" stroke-linecap="round" stroke-linejoin="round"><circle r="8.7"/><path d="M-4.4 -3.2L-1 0H5.6"/><path d="M2.6 -3.2L5.8 0L2.6 3.2"/><path d="M-4.5 3.5L-2.4 1.7"/></g>
<g transform="translate(1280.2,574.5)" fill="none" stroke="#b84ad1" stroke-width="1.5"><path d="M3 -8.1A8.6 8.6 0 1 0 8.3 -2.3" stroke-linecap="round"/><path d="M2.6 -4.6L-2.6 0.6H1.2L-2.6 4.6L3.2 -0.6H-0.8z" fill="#b84ad1" stroke-width="0.7" stroke-linejoin="round"/></g>
<circle cx="1286.3" cy="568.5" r="2.4" fill="#f23645" stroke="#131722" stroke-width="1"/>
<g clip-path="url(#cr)">
<rect x="9" y="611.5" width="1353" height="63" fill="#7e57c2" fill-opacity="0.115"/>
<line x1="9" x2="1362" y1="611.5" y2="611.5" stroke="#9598a1" stroke-opacity="0.68" stroke-width="1" stroke-dasharray="3.6 2.7"/>
<line x1="9" x2="1362" y1="643.2" y2="643.2" stroke="#9598a1" stroke-opacity="0.22" stroke-width="1" stroke-dasharray="3.6 2.7"/>
<line x1="9" x2="1362" y1="674.5" y2="674.5" stroke="#9598a1" stroke-opacity="0.68" stroke-width="1" stroke-dasharray="3.6 2.7"/>
<clipPath id="ob"><rect x="9" y="586" width="1353" height="25.5"/></clipPath>
<polygon clip-path="url(#ob)" points="9,611.5 8.8,637.9 12.6,658.1 15.1,655.6 18.9,659.4 22.7,661.1 25.2,658.6 29,663.1 32.8,666.9 37.8,672 41.6,674.5 44.8,673.2 48.4,662.6 51.7,670.7 54.9,674.5 58.5,661.9 61.7,650.5 66,651.8 68.5,654.3 71.1,664.4 75.6,666.9 78.6,669.4 81.9,669.9 84.4,660.1 87.7,667.7 90.2,655.6 93.7,651.8 97.8,652.6 100.8,654.3 104.6,644.2 107.8,640.5 110.9,633.4 113.9,641.7 117.2,648.5 120.9,638.5 124,641.7 127.2,646.8 131,655.6 134.8,661.1 138.6,655.6 142.4,651.1 145.6,649.3 147.9,655.6 150.4,634.2 153.7,629.1 157.5,632.9 161.2,629.1 165,634.2 168.8,634.9 173.8,638.5 180.1,631.1 183.9,634.2 187.7,640.5 191,643 193.5,627.9 196.5,627.1 200.3,628.6 202.8,632.9 205.3,640.5 208.6,646 211.1,647.5 214.2,643 217.2,640.5 220.5,635.4 223.5,631.7 226.8,635.4 229.8,649.3 233.1,654.3 236.8,658.6 239.9,659.4 243.1,652.6 246.4,660.1 249.4,660.1 253.2,664.4 257,668.2 260.8,656.1 264,656.8 267.1,659.4 270.8,656.8 274.1,661.9 277.1,649.3 280.9,644.2 286,634.2 289.7,631.7 293.5,629.1 297.3,629.4 300.3,636.7 303.6,641.7 306.9,629.1 309.9,621.6 313.7,622.8 317,624.8 320,617.3 323.3,614.8 326.3,626.6 330.1,619.1 333.3,611.5 336.4,606 339.6,616.5 342.7,620.3 346.4,615.3 349.7,625.4 352.7,629.1 356.5,632.4 360,626.6 362.6,625.4 366.4,622.8 370.2,632.9 376.5,646.8 379.7,646 382.8,642.5 386.5,649.3 390.3,646.8 395.9,651.1 399.6,645.5 402.9,636.7 406.7,636.7 409.2,641.7 413,640.5 416.8,649.3 419.3,651.1 423.1,646 426.3,634.9 429.4,632.9 431.9,622.8 435.7,625.9 439.4,623.3 442.7,619.1 445.7,626.6 450.8,621.6 454.6,624.1 458.8,629.1 462.1,621.6 465.9,616.5 468.9,611.5 472.2,614 476,617.8 478.5,625.4 482.3,622.3 488.1,622.8 492.4,630.4 495.6,635.9 499.2,625.9 505,625.9 511.2,626.6 515,634.2 518.3,635.9 521.3,640.5 525.6,652.6 528.1,648 530.9,631.7 534.7,625.9 538.5,625.4 541.5,634.2 545.3,639.2 549,642.5 552.3,627.9 555.3,627.4 557.9,631.7 561.6,625.9 564.9,624.8 567.4,627.4 571.2,624.8 574.7,624.1 578,617.8 581.8,608.5 584.8,610.7 587.3,609.7 590.6,621.6 594.4,628.4 598.2,612.8 601.2,605.2 604.5,604.4 608.3,610.7 612,606.5 615.8,603.9 620.8,603.9 624.6,621.6 628.4,615.3 632.2,609 636,603.9 639.7,601.4 644.3,596.4 647.8,603.2 651.1,603.9 653.6,617.3 656.9,614 660.4,621.6 664.4,631.7 668,623.3 671.2,622.3 675,624.1 678.8,617.3 683.8,616.5 687.6,624.1 691.4,627.4 695.2,626.6 699,621.6 702.7,614 705.3,609 707.8,609.7 710,606.5 713.9,602.2 717.6,603.9 720.2,625.4 723.9,630.4 727.2,629.1 730.7,625.4 734,627.9 737.8,631.7 740.8,621.6 744.1,619.1 747.4,624.1 750.4,640.5 754.2,644.2 757.4,647.5 760.5,641 764.2,649.3 767.5,655.6 770.5,654.3 773.8,658.1 777.3,648.5 780.6,655.6 784.4,662.6 787.7,667.7 790.7,668.2 793.7,654.3 797,653.1 800.3,644.2 803.3,656.8 807.1,649.3 810.9,641.7 814.6,632.9 818.4,630.4 822.2,629.9 827.2,630.4 829.8,635.4 833,642.5 836.6,632.9 839.8,627.1 843.6,635.4 847.4,632.9 849.9,629.1 852.9,641.7 856.7,641.7 860,644.2 863.3,653.1 866.3,661.9 869.3,662.6 873.3,658.6 876.4,665.7 879.4,664.4 883.4,658.6 886.9,656.8 889.5,650.5 892.2,661.1 895.3,653.1 899,651.8 901.6,641.7 905.3,637.9 909.1,634.2 912.9,630.4 916.2,633.4 919.2,643 922.2,636.7 925.5,639.2 928.8,647.5 931.8,654.3 935.6,661.1 939.4,659.4 942.6,653.1 945.7,663.1 949.4,671.2 952.7,666.9 955.7,661.9 959,656.8 962,646.8 965.8,637.9 969.6,631.7 973.4,627.9 976.6,625.4 979.7,625.4 982.7,631.7 986,621.6 988.5,624.1 992.3,615.3 996,614 999.8,614 1003.1,611.5 1005.6,609 1008.6,614 1011.9,612.8 1014.9,615.3 1018.7,615.8 1022.5,614 1026.3,617.8 1029.6,619.1 1032.6,620.3 1035.9,629.1 1038.9,627.9 1041.9,634.2 1045.2,624.1 1048.5,614 1051.5,610.2 1054.7,605.2 1057.8,600.7 1060,602.7 1061.3,602.2 1065.1,599.7 1068.1,597.6 1071.4,596.4 1074.7,615.3 1077.7,610.2 1081.5,609 1085.3,606 1089.1,605.2 1092.8,608.2 1095.4,611.5 1098.4,632.9 1101.7,641.7 1104.9,646 1108.5,646.8 1111.7,631.7 1115,629.1 1118.5,624.1 1121.8,623.3 1125.6,624.8 1128.6,626.6 1131.1,630.4 1134.4,621.6 1138.2,610.2 1142,609 1145.7,606.5 1148.8,604.7 1152,604.4 1154.6,612.8 1157.8,607.2 1160.9,615.3 1164.6,635.9 1168.4,626.6 1172.2,619.1 1175.5,621.6 1178.5,622.8 1182.3,616.5 1186.1,612 1189.1,614 1193.6,631.7 1196.6,627.9 1199.9,624.8 1203.7,630.4 1207.5,635.9 1210.7,641.7 1213.8,625.4 1217.5,624.8 1221.3,627.9 1225.1,626.6 1228.4,630.4 1231.4,622.8 1234.7,617.8 1237.7,624.1 1241,636.7 1244.5,631.7 1247.8,625.4 1251.1,626.6 1254.1,629.1 1257.1,621.6 1260.4,627.9 1264.2,634.2 1267.2,640.5 1270.5,634.2 1274.2,632.9 1277.3,625.4 1280.5,622.3 1281,611.5" fill="#4caf50" fill-opacity="0.1"/>
<polyline points="8.8,637.9 12.6,658.1 15.1,655.6 18.9,659.4 22.7,661.1 25.2,658.6 29,663.1 32.8,666.9 37.8,672 41.6,674.5 44.8,673.2 48.4,662.6 51.7,670.7 54.9,674.5 58.5,661.9 61.7,650.5 66,651.8 68.5,654.3 71.1,664.4 75.6,666.9 78.6,669.4 81.9,669.9 84.4,660.1 87.7,667.7 90.2,655.6 93.7,651.8 97.8,652.6 100.8,654.3 104.6,644.2 107.8,640.5 110.9,633.4 113.9,641.7 117.2,648.5 120.9,638.5 124,641.7 127.2,646.8 131,655.6 134.8,661.1 138.6,655.6 142.4,651.1 145.6,649.3 147.9,655.6 150.4,634.2 153.7,629.1 157.5,632.9 161.2,629.1 165,634.2 168.8,634.9 173.8,638.5 180.1,631.1 183.9,634.2 187.7,640.5 191,643 193.5,627.9 196.5,627.1 200.3,628.6 202.8,632.9 205.3,640.5 208.6,646 211.1,647.5 214.2,643 217.2,640.5 220.5,635.4 223.5,631.7 226.8,635.4 229.8,649.3 233.1,654.3 236.8,658.6 239.9,659.4 243.1,652.6 246.4,660.1 249.4,660.1 253.2,664.4 257,668.2 260.8,656.1 264,656.8 267.1,659.4 270.8,656.8 274.1,661.9 277.1,649.3 280.9,644.2 286,634.2 289.7,631.7 293.5,629.1 297.3,629.4 300.3,636.7 303.6,641.7 306.9,629.1 309.9,621.6 313.7,622.8 317,624.8 320,617.3 323.3,614.8 326.3,626.6 330.1,619.1 333.3,611.5 336.4,606 339.6,616.5 342.7,620.3 346.4,615.3 349.7,625.4 352.7,629.1 356.5,632.4 360,626.6 362.6,625.4 366.4,622.8 370.2,632.9 376.5,646.8 379.7,646 382.8,642.5 386.5,649.3 390.3,646.8 395.9,651.1 399.6,645.5 402.9,636.7 406.7,636.7 409.2,641.7 413,640.5 416.8,649.3 419.3,651.1 423.1,646 426.3,634.9 429.4,632.9 431.9,622.8 435.7,625.9 439.4,623.3 442.7,619.1 445.7,626.6 450.8,621.6 454.6,624.1 458.8,629.1 462.1,621.6 465.9,616.5 468.9,611.5 472.2,614 476,617.8 478.5,625.4 482.3,622.3 488.1,622.8 492.4,630.4 495.6,635.9 499.2,625.9 505,625.9 511.2,626.6 515,634.2 518.3,635.9 521.3,640.5 525.6,652.6 528.1,648 530.9,631.7 534.7,625.9 538.5,625.4 541.5,634.2 545.3,639.2 549,642.5 552.3,627.9 555.3,627.4 557.9,631.7 561.6,625.9 564.9,624.8 567.4,627.4 571.2,624.8 574.7,624.1 578,617.8 581.8,608.5 584.8,610.7 587.3,609.7 590.6,621.6 594.4,628.4 598.2,612.8 601.2,605.2 604.5,604.4 608.3,610.7 612,606.5 615.8,603.9 620.8,603.9 624.6,621.6 628.4,615.3 632.2,609 636,603.9 639.7,601.4 644.3,596.4 647.8,603.2 651.1,603.9 653.6,617.3 656.9,614 660.4,621.6 664.4,631.7 668,623.3 671.2,622.3 675,624.1 678.8,617.3 683.8,616.5 687.6,624.1 691.4,627.4 695.2,626.6 699,621.6 702.7,614 705.3,609 707.8,609.7 710,606.5 713.9,602.2 717.6,603.9 720.2,625.4 723.9,630.4 727.2,629.1 730.7,625.4 734,627.9 737.8,631.7 740.8,621.6 744.1,619.1 747.4,624.1 750.4,640.5 754.2,644.2 757.4,647.5 760.5,641 764.2,649.3 767.5,655.6 770.5,654.3 773.8,658.1 777.3,648.5 780.6,655.6 784.4,662.6 787.7,667.7 790.7,668.2 793.7,654.3 797,653.1 800.3,644.2 803.3,656.8 807.1,649.3 810.9,641.7 814.6,632.9 818.4,630.4 822.2,629.9 827.2,630.4 829.8,635.4 833,642.5 836.6,632.9 839.8,627.1 843.6,635.4 847.4,632.9 849.9,629.1 852.9,641.7 856.7,641.7 860,644.2 863.3,653.1 866.3,661.9 869.3,662.6 873.3,658.6 876.4,665.7 879.4,664.4 883.4,658.6 886.9,656.8 889.5,650.5 892.2,661.1 895.3,653.1 899,651.8 901.6,641.7 905.3,637.9 909.1,634.2 912.9,630.4 916.2,633.4 919.2,643 922.2,636.7 925.5,639.2 928.8,647.5 931.8,654.3 935.6,661.1 939.4,659.4 942.6,653.1 945.7,663.1 949.4,671.2 952.7,666.9 955.7,661.9 959,656.8 962,646.8 965.8,637.9 969.6,631.7 973.4,627.9 976.6,625.4 979.7,625.4 982.7,631.7 986,621.6 988.5,624.1 992.3,615.3 996,614 999.8,614 1003.1,611.5 1005.6,609 1008.6,614 1011.9,612.8 1014.9,615.3 1018.7,615.8 1022.5,614 1026.3,617.8 1029.6,619.1 1032.6,620.3 1035.9,629.1 1038.9,627.9 1041.9,634.2 1045.2,624.1 1048.5,614 1051.5,610.2 1054.7,605.2 1057.8,600.7 1060,602.7 1061.3,602.2 1065.1,599.7 1068.1,597.6 1071.4,596.4 1074.7,615.3 1077.7,610.2 1081.5,609 1085.3,606 1089.1,605.2 1092.8,608.2 1095.4,611.5 1098.4,632.9 1101.7,641.7 1104.9,646 1108.5,646.8 1111.7,631.7 1115,629.1 1118.5,624.1 1121.8,623.3 1125.6,624.8 1128.6,626.6 1131.1,630.4 1134.4,621.6 1138.2,610.2 1142,609 1145.7,606.5 1148.8,604.7 1152,604.4 1154.6,612.8 1157.8,607.2 1160.9,615.3 1164.6,635.9 1168.4,626.6 1172.2,619.1 1175.5,621.6 1178.5,622.8 1182.3,616.5 1186.1,612 1189.1,614 1193.6,631.7 1196.6,627.9 1199.9,624.8 1203.7,630.4 1207.5,635.9 1210.7,641.7 1213.8,625.4 1217.5,624.8 1221.3,627.9 1225.1,626.6 1228.4,630.4 1231.4,622.8 1234.7,617.8 1237.7,624.1 1241,636.7 1244.5,631.7 1247.8,625.4 1251.1,626.6 1254.1,629.1 1257.1,621.6 1260.4,627.9 1264.2,634.2 1267.2,640.5 1270.5,634.2 1274.2,632.9 1277.3,625.4 1280.5,622.3" fill="none" stroke="#7e57c2" stroke-width="1.1" stroke-linejoin="round"/>
<path d="M8.8 654.3C12.2 655.2 11.8 656 18.9 657.1C26 658.2 23.1 657 30.2 657.6C37.4 658.2 34 657.9 40.3 658.9C46.6 659.9 44.1 658.4 49.1 660.6C54.2 662.9 50.8 664.2 55.4 665.7C60 667.2 57.9 665.6 63 665.2C68 664.7 64.7 664.2 70.5 664.4C76.4 664.6 74.7 665.9 80.6 665.7C86.5 665.4 81.5 665.7 88.2 663.6C94.9 661.5 93.2 662.1 100.8 659.4C108.3 656.7 105 657.7 110.9 655.6C116.7 653.5 113 655.6 118.4 653.1C123.9 650.5 121.4 649.9 127.2 648C133.1 646.2 128.9 647.8 136.1 647.5C143.2 647.3 141.1 647.9 148.7 647.3C156.2 646.6 152.9 646.8 158.7 645.5C164.6 644.2 160.4 644.8 166.3 643.5C172.2 642.2 170.5 643.7 176.4 641.7C182.2 639.7 178.9 639.4 183.9 637.4C189 635.5 187.3 637.3 191.5 635.9C195.7 634.6 192.3 634.2 196.5 633.4C200.7 632.7 199 632.7 204.1 633.7C209.1 634.6 206.6 635.1 211.6 636.2C216.7 637.3 214.2 636.7 219.2 636.9C224.2 637.2 221.7 636.2 226.8 636.9C231.8 637.7 229.3 637.2 234.3 639.2C239.4 641.2 236 639.9 241.9 643C247.8 646.1 245.2 645.3 252 648.5C258.7 651.7 256.2 650 262 652.6C267.9 655.1 265 654.1 269.6 656.1C274.2 658.1 271.7 658.2 275.9 658.6C280.1 659 277.6 659 282.2 657.3C286.8 655.7 284.7 656.5 289.7 653.6C294.8 650.6 291.8 652.1 297.3 648.5C302.8 645 300.2 646.9 306.1 643C312 639 309.9 640.7 314.9 636.7C320 632.7 317 633.8 321.2 630.9C325.4 628 322.9 630.1 327.5 627.9C332.2 625.6 330.1 625.9 335.1 624.1C340.1 622.2 337.6 623.8 342.7 622.3C347.7 620.9 344.4 620.3 350.2 619.8C356 619.3 354.2 620 360 620.8C365.8 621.7 362.6 620.4 367.6 622.3C372.7 624.3 370.2 623.5 375.2 626.6C380.2 629.7 377.7 628.5 382.8 631.7C387.8 634.8 384.9 633.4 390.3 635.9C395.8 638.5 393.3 637.5 399.1 639.2C405 640.9 402.1 639.1 407.9 641C413.8 642.8 411.7 643.2 416.8 644.8C421.8 646.3 418.4 646.1 423.1 645.5C427.7 644.9 425.6 645.3 430.6 643C435.7 640.6 432.7 641.4 438.2 638.5C443.6 635.5 440.3 636.7 447 634.2C453.7 631.7 451.6 633.8 458.3 630.9C465.1 628 461.7 628.5 467.2 625.4C472.6 622.2 468.4 622.8 474.7 621.6C481 620.3 478.9 621.3 486.1 621.6C493.2 621.8 488.6 621.9 496.1 622.3C503.7 622.7 501.2 621.4 508.7 622.8C516.3 624.3 512.1 623.7 518.8 626.6C525.5 629.6 521.3 629.7 528.9 631.7C536.4 633.6 533.9 631.6 541.5 632.4C549 633.2 545.7 633.4 551.6 634.2C557.4 634.9 553.7 635.1 559.1 634.7C564.6 634.3 562.1 635 567.9 632.9C573.8 630.8 569.6 631.3 576.8 628.4C583.9 625.4 581 627.2 589.4 624.1C597.8 621 594.4 622.2 602 619.1C609.5 615.9 605.3 617.5 612 614.8C618.7 612 616.2 611.7 622.1 610.7C628 609.8 625 611.9 629.7 612C634.3 612.1 631.8 612.6 636 611C640.2 609.4 638.1 609 642.3 607.2C646.5 605.4 643.9 606 648.6 605.7C653.2 605.4 649.8 604.7 656.1 606.5C662.4 608.2 660.3 608.9 667.5 611C674.6 613.1 671.7 611.3 677.5 612.8C683.4 614.2 680.1 612.9 685.1 615.3C690.1 617.6 688 617.7 692.7 619.8C697.3 621.9 694.3 621.2 699 621.6C703.6 622 702.8 621.9 706.5 621.1C710.2 620.2 706.3 620.6 710 619.1C713.7 617.5 711.7 616.8 717.6 616.5C723.5 616.3 721 617.3 727.7 618.3C734.4 619.3 731.9 619.6 737.8 619.6C743.7 619.6 740.3 616.8 745.4 618.3C750.4 619.8 747 619.4 752.9 624.1C758.8 628.8 756.3 627.8 763 632.4C769.7 637 766.3 633.7 773.1 637.9C779.8 642.1 776.4 639.8 783.1 645C789.9 650.2 787.3 650.4 793.2 653.6C799.1 656.8 794.9 654.1 800.8 654.6C806.7 655.1 804.1 656.4 810.9 655.1C817.6 653.7 814.2 653.9 820.9 650.5C827.7 647.2 824.3 648.8 831 645C837.7 641.2 834.4 642.6 841.1 639.2C847.8 635.8 845.3 636.6 851.2 634.9C857.1 633.2 853.7 633 858.7 634.2C863.8 635.3 860.4 634.8 866.3 638.5C872.2 642.1 869.6 641.1 876.4 645C883.1 648.9 879.7 646.7 886.4 650C893.2 653.4 889.8 653.5 896.5 655.1C903.2 656.7 899.9 656.5 906.6 654.8C913.3 653.2 910 653.4 916.7 650C923.4 646.7 920 646.7 926.8 644.8C933.5 642.8 931 644 936.8 644.2C942.7 644.5 939.4 643.8 944.4 645.5C949.4 647.2 946.5 646.3 952 649.3C957.4 652.2 954.5 653.1 960.8 654.3C967.1 655.6 964.6 654.7 970.8 653.1C977.1 651.4 973.4 653.1 979.7 649.3C986 645.5 983.9 646.8 989.7 641.7C995.6 636.7 992.3 639.6 997.3 634.2C1002.3 628.7 999.8 630 1004.9 625.4C1009.9 620.7 1007.4 622.8 1012.4 620.3C1017.5 617.8 1014.1 619.3 1020 617.8C1025.9 616.3 1023.8 615.9 1030.1 615.8C1036.4 615.6 1033 616 1038.9 617.3C1044.8 618.5 1042.2 619.2 1047.7 619.6C1053.2 619.9 1051.1 619.1 1055.3 618.3C1059.4 617.5 1055.1 619.1 1060 617C1065 615 1063.4 614.5 1070.2 612.2C1076.9 610 1074.4 612.3 1080.2 610.2C1086.1 608.1 1083.2 607.6 1087.8 606C1092.4 604.3 1089.9 604.2 1094.1 605.2C1098.3 606.2 1095.8 605.2 1100.4 609C1105 612.8 1102.5 611.9 1107.9 616.5C1113.4 621.2 1110.9 619.9 1116.8 622.8C1122.6 625.8 1119.7 623.5 1125.6 625.4C1131.5 627.2 1128.9 627.7 1134.4 628.4C1139.9 629 1136.9 629.6 1142 627.4C1147 625.1 1144.5 625.2 1149.5 621.6C1154.6 618 1152.5 618.5 1157.1 616.5C1161.7 614.6 1157.9 615.8 1163.4 615.8C1168.8 615.8 1166.7 616.4 1173.5 616.5C1180.2 616.6 1177.7 616 1183.5 616C1189.4 616 1186.1 614.9 1191.1 616.5C1196.1 618.1 1192.8 618.3 1198.7 620.8C1204.5 623.3 1202 622.6 1208.7 624.1C1215.4 625.6 1212.1 624.5 1218.8 625.4C1225.5 626.2 1222.2 625.8 1228.9 626.6C1235.6 627.5 1232.2 627 1239 627.9C1245.7 628.7 1242.7 629.6 1249 629.1C1255.3 628.7 1252 627 1257.9 626.6C1263.7 626.2 1261.2 627.2 1266.7 627.9C1272.1 628.5 1269.6 628.2 1274.2 628.6C1278.9 629 1278.4 629 1280.5 629.1" fill="none" stroke="#e3cf30" stroke-width="1.2" stroke-linejoin="round"/>
</g>
<path d="M1362 69.8V55.8a2 2 0 0 1 2-2h51a2 2 0 0 1 2 2V69.8z" fill="#ffffff"/>
<rect x="1362" y="87.8" width="55" height="15.2" rx="2" fill="#ffffff"/>
<path d="M1309.3 70.7a1.5 1.5 0 0 1 1.5-1.5H1362V69.8H1417V82.9a1.5 1.5 0 0 1-1.5 1.5H1310.8a1.5 1.5 0 0 1-1.5-1.5z" fill="#26a69a"/>
<line x1="1361.6" x2="1361.6" y1="69.8" y2="84.4" stroke="#1c8579" stroke-width="0.8"/>
<g font-family="Liberation Sans, Arial, sans-serif" font-size="10.1" fill="#c6c9d1" stroke="#c6c9d1" stroke-width="0.15">
<text x="1369.4" y="40.6">19500.00</text>
<text x="1369.4" y="128.9">17500.00</text>
<text x="1369.4" y="167.1">16700.00</text>
<text x="1369.4" y="207.1">15900.00</text>
<text x="1369.4" y="249.3">15100.00</text>
<text x="1369.4" y="276.8">14600.00</text>
<text x="1369.4" y="305.2">14100.00</text>
<text x="1369.4" y="340.7">13500.00</text>
<text x="1369.4" y="377.8">12900.00</text>
<text x="1369.4" y="416.7">12300.00</text>
<text x="1369.4" y="443.6">11900.00</text>
<text x="1369.4" y="471.5">11500.00</text>
<text x="1369.4" y="500.4">11100.00</text>
<text x="1369.4" y="530.4">10700.00</text>
<text x="1369.4" y="558.3">10340.00</text>
<text x="1369.4" y="585.6">10000.00</text>
<text x="1369.4" y="599.6">80.00</text>
<text x="1369.4" y="631.1">60.00</text>
<text x="1369.4" y="662.6">40.00</text>
</g>
<g font-family="Liberation Sans, Arial, sans-serif" font-size="10.1" stroke-width="0.2">
<text x="1369.4" y="66.2" fill="#131722" stroke="#131722">18725.25</text>
<text x="1369.4" y="99.5" fill="#131722" stroke="#131722">18163.75</text>
<text x="1369.4" y="80.7" fill="#ffffff" stroke="#ffffff">18582.50</text>
<text x="1314.2" y="80.7" fill="#ffffff" stroke="#ffffff" textLength="43" lengthAdjust="spacingAndGlyphs">NQM2024</text>
</g>
<g font-family="Liberation Sans, Arial, sans-serif" font-size="10.1" fill="#c6c9d1" stroke="#c6c9d1" stroke-width="0.15" text-anchor="middle">
<text x="128" y="699.8">Nov</text>
<text x="267" y="699.8" font-weight="bold">2023</text>
<text x="395" y="699.8">Mar</text>
<text x="471" y="699.8">Apr</text>
<text x="611" y="699.8">Jun</text>
<text x="746" y="699.8">Aug</text>
<text x="823" y="699.8">Sep</text>
<text x="962" y="699.8">Nov</text>
<text x="1098" y="699.8" font-weight="bold">2024</text>
<text x="1233" y="699.8">Mar</text>
</g>
<text x="9" y="17" font-family="Liberation Sans, Arial, sans-serif" font-size="10.4" fill="#d6d8de" stroke="#d6d8de" stroke-width="0.3" id="hdr" textLength="329.5" lengthAdjust="spacing">dacolmanfx published on TradingView.com, Mar 20, 2024 19:29 UTC-4</text>
<text x="15.6" y="41" font-family="Liberation Sans, Arial, sans-serif" font-size="10.1" fill="#d1d4dc" stroke="#d1d4dc" stroke-width="0.2" id="lg" xml:space="preserve">NASDAQ 100 E-mini Futures, 1D, CME  O<tspan fill="#26a69a">18539.75</tspan>  H<tspan fill="#26a69a">18589.00</tspan>  L<tspan fill="#26a69a">18526.75</tspan>  C<tspan fill="#26a69a">18582.50</tspan>  <tspan fill="#26a69a">+102.75 (+0.56%)</tspan></text>
<text x="28.2" y="565.7" font-family="Liberation Sans, Arial, sans-serif" font-size="14" font-weight="bold" fill="#ffffff" id="ann">2022 lows (October)</text>
<g fill="#d1d4dc"><path d="M8.8 718.8h7.6v8.4h-3.9v-4.6h-3.7z"/><circle cx="18.9" cy="720.5" r="1.4"/><path d="M21.6 718.8h4.2l-3.5 8.4h-4.2z"/></g>
<text x="29.3" y="727.7" font-family="Liberation Sans, Arial, sans-serif" font-size="11" fill="#d1d4dc" stroke="#d1d4dc" stroke-width="0.25" id="tv" textLength="62" lengthAdjust="spacingAndGlyphs">TradingView</text>
</svg>
<div class="wm1">海马财经</div>
<div class="wm2">zzrt01.cn</div>
</body></html>
